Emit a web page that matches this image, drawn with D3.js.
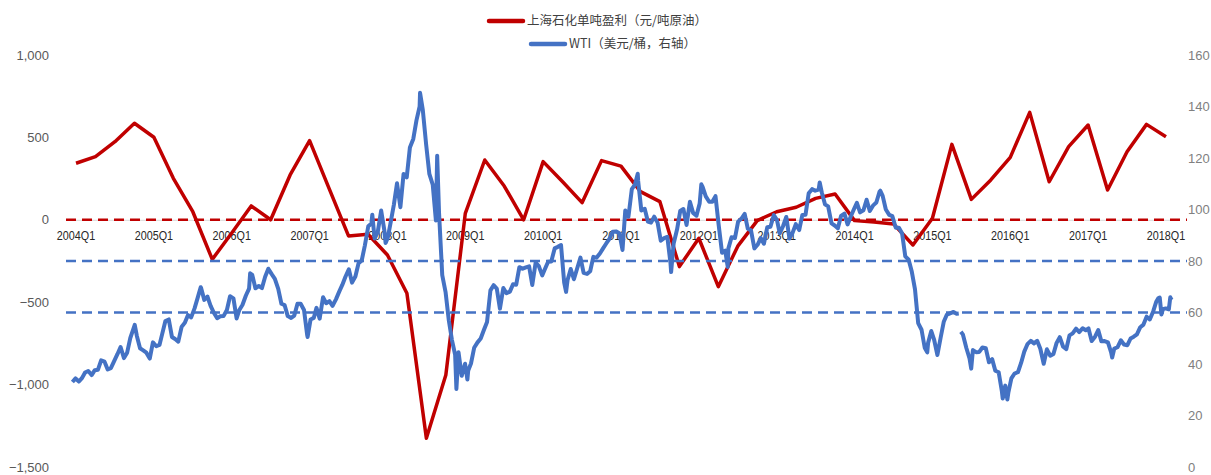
<!DOCTYPE html>
<html>
<head>
<meta charset="utf-8">
<script src="https://cdn.jsdelivr.net/npm/d3@7"></script>
<style>
  body { margin: 0; background: #fff; }
  svg { display: block; }
  text { font-family: "Liberation Sans", Arial, sans-serif; }
</style>
</head>
<body>
<svg id="chart" width="1211" height="475"></svg>
<script>
// ---------------- data ----------------
const quarters = [
  "2004Q1","2004Q2","2004Q3","2004Q4","2005Q1","2005Q2","2005Q3","2005Q4",
  "2006Q1","2006Q2","2006Q3","2006Q4","2007Q1","2007Q2","2007Q3","2007Q4",
  "2008Q1","2008Q2","2008Q3","2008Q4","2009Q1","2009Q2","2009Q3","2009Q4",
  "2010Q1","2010Q2","2010Q3","2010Q4","2011Q1","2011Q2","2011Q3","2011Q4",
  "2012Q1","2012Q2","2012Q3","2012Q4","2013Q1","2013Q2","2013Q3","2013Q4",
  "2014Q1","2014Q2","2014Q3","2014Q4","2015Q1","2015Q2","2015Q3","2015Q4",
  "2016Q1","2016Q2","2016Q3","2016Q4","2017Q1","2017Q2","2017Q3","2017Q4",
  "2018Q1"
];
// 上海石化单吨盈利 (元/吨原油), one value per quarter
const profit = [
  343, 383, 474, 586,   501, 252, 49, -240,   -80, 84, 0, 272,
  480, 191, -98, -88,   -214, -446, -1326, -942,   39, 363, 205, 0,
  353, 231, 104, 359,   326, 171, 110, -284,   -112, -406, -160, -5,
  49, 76, 130, 157,   -5, -13, -25, -153,   9, 458, 124, 242,
  379, 652, 231, 444,   575, 181, 413, 579,   504
];
const xLabels = ["2004Q1","2005Q1","2006Q1","2007Q1","2008Q1","2009Q1","2010Q1",
  "2011Q1","2012Q1","2013Q1","2014Q1","2015Q1","2016Q1","2017Q1","2018Q1"];
const leftTicks = [-1500, -1000, -500, 0, 500, 1000];
const rightTicks = [0, 20, 40, 60, 80, 100, 120, 140, 160];
const profitRefLines = [0];
const wtiRefLines = [80, 60];
const legendLabels = ["上海石化单吨盈利（元/吨原油）", "WTI（美元/桶，右轴）"];

// WTI (美元/桶): readings on the 1st and 16th of each month, null = break in the line
const wti2004 = [33.0,34.4, 33.2,34.6, 36.7,37.3, 35.7,37.6, 37.8,41.4, 40.9,37.9, 38.4,41.0, 43.8,46.6, 42.3,44.4, 50.1,53.7, 50.9,46.1, 45.3,44.4];
const wti2005 = [42.1,48.4, 46.9,47.4, 51.7,56.7, 57.3,50.5, 49.7,48.7, 54.5,56.0, 59.0,58.1, 61.6,65.8, 69.5,64.9, 66.2,62.6, 59.8,57.8, 58.5,58.6];
const wti2006 = [61.0,66.3, 65.5,57.7, 61.0,63.0, 66.6,69.3, 74.6,69.4, 70.3,69.5, 73.9,77.0, 74.9,73.1, 69.2,63.4, 62.9,58.6, 57.9,58.8, 63.4,63.4];
const wti2007 = [61.0,51.2, 57.3,57.9, 61.8,57.6, 65.9,63.6, 64.4,62.6, 65.1,68.0, 70.7,73.9, 76.8,71.6, 74.0,79.1, 80.2,86.1, 93.5,94.6, 88.7,91.3];
const wti2008 = [99.6,91.9, 88.9,95.5, 101.8,110.2, 100.9,113.8, 112.5,124.1, 127.4,134.6, 140.0,138.7, 125.1,113.8, 109.7,95.7, 98.5,74.5, 67.8,57.0, 49.3,43.6];
const wti2009 = [44.6,35.4, 40.1,37.5, 40.2,46.3, 48.4,49.9, 53.2,56.3, 68.6,70.6, 69.3,61.5, 69.5,67.5, 68.1,71.0, 70.8,77.6, 77.0,77.5, 77.9,70.7];
const wti2010 = [79.4,78.0, 74.4,77.3, 79.7,79.8, 84.9,85.5, 86.2,71.6, 72.6,76.9, 72.9,77.0, 81.3,75.4, 75.0,76.0, 81.6,81.3, 82.9,84.9, 86.8,88.6];
const wti2011 = [91.4,91.5, 90.8,84.3, 99.6,97.2, 107.9,109.7, 111.1,99.6, 100.3,95.3, 94.9,97.2, 94.9,87.9, 88.9,89.4, 79.2,86.8, 92.2,99.4, 100.2,94.0];
const wti2012 = [103.0,98.7, 97.6,102.3, 108.8,105.1, 103.0,103.0, 105.2,94.0, 83.2,84.0, 84.9,89.2, 88.9,95.3, 96.5,98.3, 92.5,91.9, 84.9,86.3, 88.9,86.7];
const wti2013 = [93.1,93.3, 97.8,95.9, 90.7,93.4, 97.1,88.7, 91.0,94.3, 92.0,97.9, 98.0,106.3, 107.9,107.3, 107.7,106.6, 102.0,101.2, 94.6,93.8, 92.7,97.5];
const wti2014 = [98.4,94.2, 97.5,100.3, 102.6,98.9, 99.7,103.8, 99.4,101.5, 102.7,106.9, 105.3,100.0, 97.9,97.4, 92.9,92.9, 90.7,81.8, 80.5,75.8, 69.0,55.9];
const wti2015 = [53.3,46.3, 48.2,52.8, 49.6,43.9, 50.1,56.4, 59.2,59.7, 60.2,59.5, null,51.4, 46.2,42.2, 45.4,44.6, 44.7,46.4, 46.1,40.7, 41.9,37.4];
const wti2016 = [36.8,29.4, 31.6,29.0, 34.4,36.3, 36.8,40.4, 44.8,47.7, 49.0,48.0, 49.0,45.9, 40.1,45.7, 43.2,43.9, 48.2,50.4, 46.7,45.8, 51.1,51.9];
const wti2017 = [53.7,52.4, 53.9,53.1, 53.8,48.9, 50.6,53.2, 48.8,48.9, 48.4,44.5, 46.0,46.5, 49.2,47.6, 47.3,49.9, 50.6,51.5, 54.3,55.3, 58.4,57.3];
const wti2018 = [60.4,64.3, 65.8,61.3, 61.6,61.2];
// highs and lows between the regular readings
const wtiExtra = [
  ["2004-10-22",55.2], ["2005-08-30",69.8], ["2006-04-21",75.2], ["2007-01-18",50.5],
  ["2007-11-20",98.0], ["2008-01-22",87.0], ["2008-07-03",145.3], ["2008-09-22",120.9],
  ["2008-12-22",30.3], ["2009-02-12",34.0], ["2010-05-25",68.0], ["2011-04-29",113.9],
  ["2011-10-04",75.7], ["2012-02-24",109.8], ["2012-06-28",77.7], ["2013-09-06",110.5],
  ["2014-06-20",107.3], ["2015-01-28",44.5], ["2015-03-17",43.5], ["2015-06-26",59.6],
  ["2015-07-06",52.5], ["2015-08-24",38.2],
  ["2016-01-20",26.6], ["2016-02-11",26.2], ["2017-06-21",42.5], ["2018-01-25",65.5],
  ["2018-02-09",59.2], ["2018-03-23",65.9], ["2018-03-29",64.9]
];

// ---------------- build series ----------------
const wtiYears = [wti2004, wti2005, wti2006, wti2007, wti2008, wti2009, wti2010, wti2011,
  wti2012, wti2013, wti2014, wti2015, wti2016, wti2017, wti2018];
const parseDate = d3.timeParse("%Y-%m-%d");
const wti = [];
wtiYears.forEach((vals, k) => {
  vals.forEach((v, i) => {
    wti.push({ date: new Date(2004 + k, Math.floor(i / 2), i % 2 ? 16 : 1), value: v });
  });
});
wtiExtra.forEach(([s, v]) => wti.push({ date: parseDate(s), value: v }));
wti.sort((a, b) => a.date - b.date);

// ---------------- chart ----------------
const svg = d3.select("#chart");
const red = "#C00000", blue = "#4472C4";

const x = d3.scaleBand().domain(quarters).range([66.3, 1175.7]);
const xMid = q => x(q) + x.bandwidth() / 2;
const xTime = d3.scaleTime()
  .domain([new Date(2004, 0, 1), new Date(2018, 3, 1)])
  .range([72.4, 1172.2]);
const yLeft = d3.scaleLinear().domain([-1500, 1000]).range([467, 55]);
const yRight = d3.scaleLinear().domain([0, 160]).range([467, 55]);

svg.append("rect").attr("width", 1211).attr("height", 475).attr("fill", "#fff");

// category axis at zero
const xAxis = svg.append("g")
  .attr("transform", "translate(0," + yLeft(0) + ")")
  .call(d3.axisBottom(x).tickValues(xLabels).tickSize(0).tickSizeOuter(0).tickPadding(11));
xAxis.select(".domain").attr("stroke", "#d9d9d9").attr("stroke-width", 1);
xAxis.selectAll("text")
  .attr("fill", "#262626")
  .attr("transform", "scale(0.83,1)")
  .style("font-size", "13px");

// left axis
const leftAxis = svg.append("g")
  .attr("transform", "translate(49,0)")
  .call(d3.axisLeft(yLeft).tickValues(leftTicks).tickFormat(d3.format(",")).tickSize(0).tickPadding(0));
leftAxis.select(".domain").remove();
leftAxis.selectAll("text").attr("fill", "#595959").style("font-size", "13px");

// right axis
const rightAxis = svg.append("g")
  .attr("transform", "translate(1188,0)")
  .call(d3.axisRight(yRight).tickValues(rightTicks).tickSize(0).tickPadding(0));
rightAxis.select(".domain").remove();
rightAxis.selectAll("text").attr("fill", "#808080").style("font-size", "13px");

// reference dashed lines
svg.selectAll(".ref-profit").data(profitRefLines).join("line")
  .attr("x1", 66).attr("x2", 1187)
  .attr("y1", d => yLeft(d)).attr("y2", d => yLeft(d))
  .attr("stroke", red).attr("stroke-width", 2.5).attr("stroke-dasharray", "10,6");

// profit line
svg.append("path")
  .datum(profit)
  .attr("fill", "none")
  .attr("stroke", red)
  .attr("stroke-width", 3.5)
  .attr("stroke-linejoin", "round")
  .attr("d", d3.line().x((d, i) => xMid(quarters[i])).y(d => yLeft(d)));

svg.selectAll(".ref-wti").data(wtiRefLines).join("line")
  .attr("x1", 66).attr("x2", 1187)
  .attr("y1", d => yRight(d)).attr("y2", d => yRight(d))
  .attr("stroke", blue).attr("stroke-width", 2.5).attr("stroke-dasharray", "10,6");

// WTI line
svg.append("path")
  .datum(wti)
  .attr("fill", "none")
  .attr("stroke", blue)
  .attr("stroke-width", 4)
  .attr("stroke-linejoin", "round")
  .attr("d", d3.line()
    .defined(d => d.value != null)
    .x(d => xTime(d.date))
    .y(d => yRight(d.value)));

// legend
const legend = svg.append("g");
const legendItems = [
  { label: legendLabels[0], color: red, x: 489, y: 21 },
  { label: legendLabels[1], color: blue, x: 531, y: 44 }
];
legendItems.forEach(it => {
  legend.append("line")
    .attr("x1", it.x).attr("x2", it.x + 34)
    .attr("y1", it.y).attr("y2", it.y)
    .attr("stroke", it.color).attr("stroke-width", 4.5).attr("stroke-linecap", "round");
  legend.append("text")
    .attr("x", it.x + 38).attr("y", it.y)
    .attr("dy", "0.35em")
    .attr("fill", "#404040")
    .style("font-family", "'Noto Sans CJK SC','Noto Sans',sans-serif")
    .style("font-size", "12.5px")
    .text(it.label);
});
</script>
</body>
</html>
